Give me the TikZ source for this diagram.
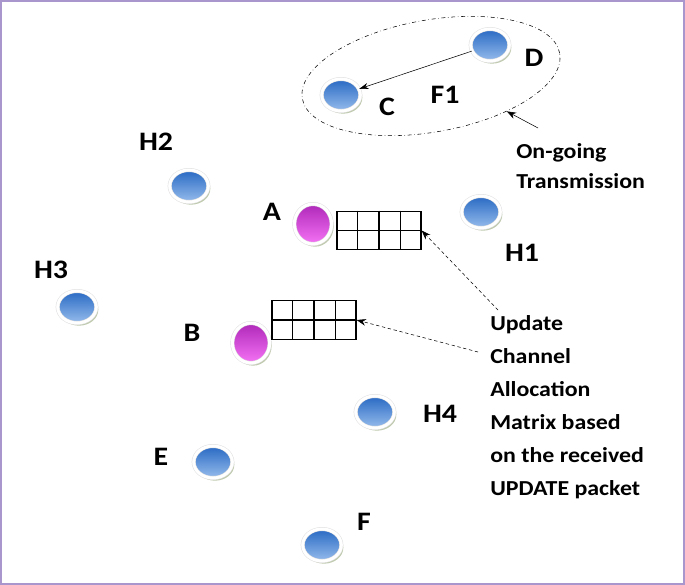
\documentclass[tikz,border=0pt]{standalone}
\usepackage{fontspec}
\setmainfont[FakeStretch=1.12]{Carlito}
\usetikzlibrary{shapes.geometric,shadows,arrows.meta,calc}
\begin{document}
\begin{tikzpicture}[
    x=0.75pt, y=-0.75pt,
    host/.style={ellipse, inner sep=0pt, minimum width=29pt, minimum height=24pt,
                 draw=black!12, double=white, double distance=2.2pt,
                 top color={rgb,255: red,40; green,105; blue,195},
                 bottom color={rgb,255: red,150; green,188; blue,236},
                 drop shadow={shadow xshift=1.5pt, shadow yshift=-2pt,
                              fill={rgb,255: red,165; green,180; blue,140}, opacity=0.7}},
    sel/.style={host, minimum width=28pt, minimum height=30pt,
                top color={rgb,255: red,175; green,40; blue,185},
                bottom color={rgb,255: red,245; green,115; blue,245}},
    lbl/.style={font=\bfseries\fontsize{20}{24}\selectfont, inner sep=0pt},
    note/.style={align=left, font=\bfseries\fontsize{16}{24.75}\selectfont, inner sep=0pt},
    cam/.style={rectangle, draw, line width=0.9pt, minimum width=63pt,
                minimum height=29pt, inner sep=0pt}
]
\useasboundingbox (0,0) rectangle (685,585);
\draw [line width=1.6pt, draw={rgb,255: red,168; green,150; blue,204}]
    (1.2,1.2) rectangle (683.8,583.8);

% hosts
\node (D) [host] at (490,45) {};
\node (C) [host] at (341,95) {};
\node (H2) [host] at (189,186) {};
\node (A) [sel] at (313,224) {};
\node (H1) [host] at (481,212) {};
\node (H3) [host] at (77,307) {};
\node (B) [sel] at (251,343) {};
\node (H4) [host] at (375,412) {};
\node (E) [host] at (213,462) {};
\node (F) [host] at (322,545) {};

% labels
\node (lD) [lbl] at (534,58) {D};
\node (lC) [lbl] at (387,107) {C};
\node (lF1) [lbl] at (445,95) {F1};
\node (lH2) [lbl] at (156,142) {H2};
\node (lA) [lbl] at (272,212) {A};
\node (lH1) [lbl] at (522,253) {H1};
\node (lH3) [lbl] at (51,270) {H3};
\node (lB) [lbl] at (192,333) {B};
\node (lH4) [lbl] at (440,414) {H4};
\node (lE) [lbl] at (161,457) {E};
\node (lF) [lbl] at (364,522) {F};

% channel allocation matrices
\node (ma) [cam] at (379,230.5) {};
\node (mb) [cam] at (314,320) {};
\foreach \m in {ma,mb} {
    \draw [line width=0.9pt] (\m.west) -- (\m.east);
    \foreach \i in {1,2,3}
        \draw [line width=0.9pt] ($(\m.north west)!\i/4!(\m.north east)$)
            -- ($(\m.south west)!\i/4!(\m.south east)$);
}

% on-going flow
\node (ring) [draw, dash dot, ellipse, rotate=10, minimum width=196pt,
              minimum height=84pt, inner sep=0pt] at (431,76) {};
\draw [-{Stealth[length=7pt, width=4.5pt]}] (D) -- (C);

\node (trans) [note, font=\bfseries\fontsize{16}{22.5}\selectfont, anchor=north west]
    at (516,143) {On-going\\Transmission};
\draw [-{Stealth[length=7pt, width=5pt]}] ($(trans.north west)+(22,-15)$) -- (ring.-35);

\node (upd) [note, anchor=north west] at (490,315)
    {Update\\Channel\\Allocation\\Matrix based\\on the received\\UPDATE packet};
\draw [dashed, dash pattern=on 2.5pt off 2pt, -{Stealth[length=7pt, width=5pt]}]
    ($(upd.north west)+(8,-5)$) -- (ma.east);
\draw [dashed, dash pattern=on 2.5pt off 2pt, -{Stealth[length=7pt, width=5pt]}]
    ($(upd.north west)+(-12,37)$) -- (mb.east);
\end{tikzpicture}
\end{document}
